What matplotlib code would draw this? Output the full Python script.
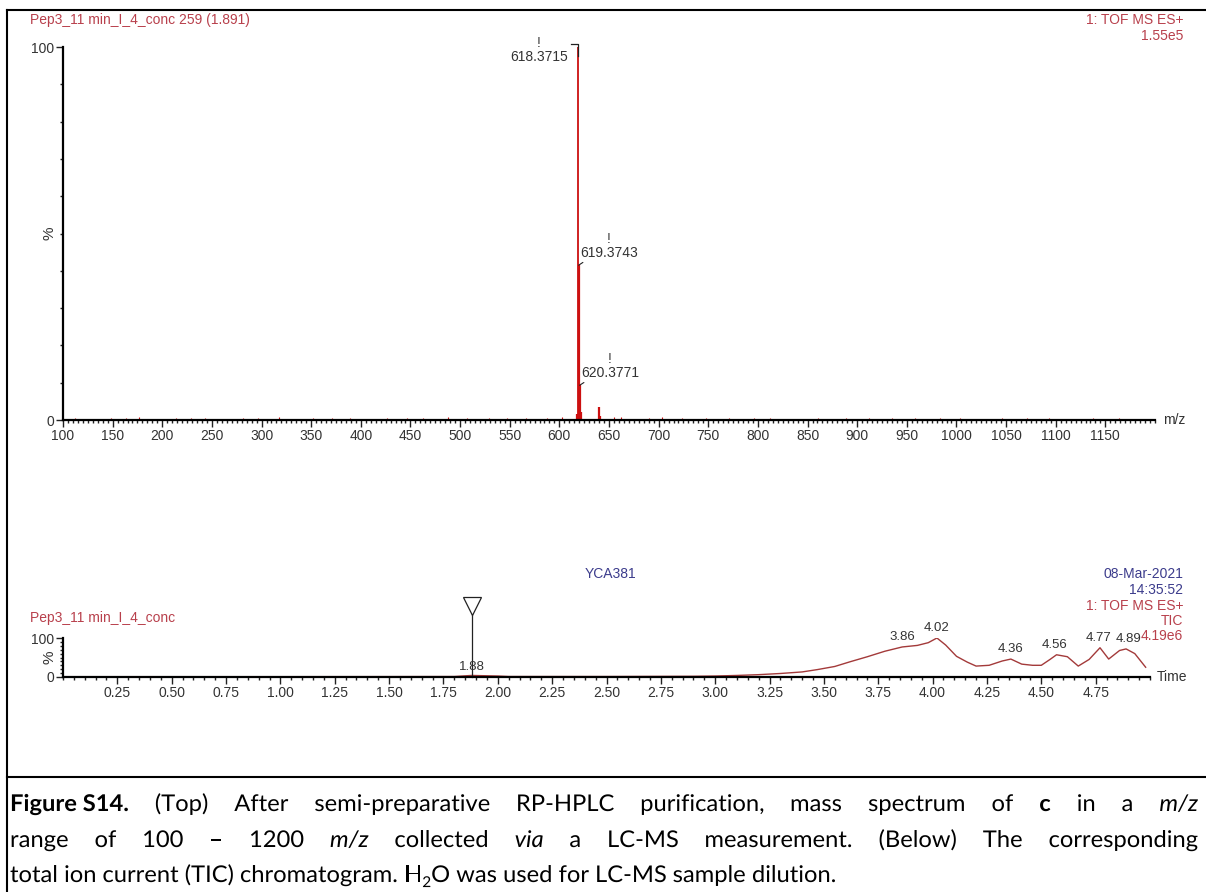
import matplotlib
matplotlib.use('Agg')
import matplotlib.pyplot as plt
from matplotlib.ticker import MultipleLocator, FixedLocator
from matplotlib.lines import Line2D
from matplotlib.textpath import TextPath
from matplotlib.patches import PathPatch
from matplotlib.font_manager import FontProperties
from matplotlib.transforms import Affine2D, IdentityTransform

# ---- data ----
# mass spectrum (top): labelled peaks and smaller features
peak_mz = [618.3715, 619.3743, 620.3771, 621.38, 617.6, 640.3, 641.3]
peak_int = [100.0, 41.5, 9.3, 2.2, 1.5, 3.4, 1.0]
peak_labels = ["618.3715", "619.3743", "620.3771"]

# baseline noise sticks (m/z, %)
noise_mz = [112, 131, 148, 163, 177, 196, 214, 229, 243, 262, 281, 296, 318, 334,
            352, 371, 389, 402, 426, 447, 463, 488, 507, 529, 547, 566, 588, 603,
            655, 662, 690, 703, 724, 748, 771, 796, 812, 838, 861, 889, 912, 935,
            958, 983, 1004, 1027, 1046, 1071, 1093, 1112, 1138, 1164, 1186]
noise_int = [0.5, 0.4, 0.6, 0.5, 0.7, 0.4, 0.6, 0.5, 0.5, 0.4, 0.6, 0.5, 0.7, 0.4,
             0.5, 0.6, 0.5, 0.4, 0.6, 0.5, 0.5, 0.7, 0.6, 0.5, 0.5, 0.6, 0.5, 0.7,
             0.9, 0.7, 0.6, 0.8, 0.5, 0.6, 0.5, 0.6, 0.5, 0.4, 0.6, 0.5, 0.6, 0.5,
             0.5, 0.6, 0.5, 0.4, 0.5, 0.6, 0.5, 0.4, 0.5, 0.5, 0.4]

# TIC chromatogram (bottom)
tic_t = [0.00, 0.50, 1.00, 1.50, 1.80, 1.85, 1.88, 1.92, 2.00, 2.05, 2.50, 2.90,
         3.00, 3.10, 3.20, 3.30, 3.40, 3.47, 3.55, 3.62, 3.70, 3.78, 3.86, 3.93,
         3.98, 4.02, 4.06, 4.11, 4.16, 4.20, 4.26, 4.32, 4.36, 4.41, 4.46, 4.50,
         4.54, 4.57, 4.62, 4.67, 4.72, 4.77, 4.81, 4.86, 4.89, 4.93, 4.98]
tic_pct = [0.8, 0.8, 0.8, 1.0, 1.2, 3.0, 4.0, 3.5, 2.5, 1.2, 1.2, 1.8,
           2.5, 4.0, 6.0, 9.0, 13.0, 19.0, 27.0, 39.0, 52.0, 66.0, 77.0, 81.0,
           88.0, 100.0, 82.0, 53.0, 38.0, 28.0, 30.0, 41.0, 46.0, 33.0, 30.0, 30.0,
           45.0, 57.0, 52.0, 28.0, 45.0, 75.0, 46.0, 68.0, 72.0, 60.0, 25.0]
tic_peak_t = [3.86, 4.02, 4.36, 4.56, 4.77, 4.89]
tic_peak_pct = [77.0, 100.0, 46.0, 57.0, 75.0, 72.0]
marker_t = 1.88

caption = [
    [[("Figure S14.", "b")], [("(Top)", "n")], [("After", "n")], [("semi-preparative", "n")],
     [("RP-HPLC", "n")], [("purification,", "n")], [("mass", "n")], [("spectrum", "n")],
     [("of", "n")], [("c", "b")], [("in", "n")], [("a", "n")], [("m/z", "i")]],
    [[("range", "n")], [("of", "n")], [("100", "n")], [("–", "n")], [("1200", "n")],
     [("m/z", "i")], [("collected", "n")], [("via", "i")], [("a", "n")], [("LC-MS", "n")],
     [("measurement.", "n")], [("(Below)", "n")], [("The", "n")], [("corresponding", "n")]],
    [[("total", "n")], [("ion", "n")], [("current", "n")], [("(TIC)", "n")],
     [("chromatogram.", "n")], [("H", "n"), ("2", "sub"), ("O", "n")], [("was", "n")],
     [("used", "n")], [("for", "n")], [("LC-MS", "n")], [("sample", "n")], [("dilution.", "n")]],
]

W, H = 1206, 892
RED = "#cc1010"
TRACE = "#a33a3a"
HDR = "#b8404c"
BLUE = "#3c3c8c"
GREY = "#333333"
FS = 10

plt.rcParams['font.family'] = ['Liberation Sans', 'DejaVu Sans']

fig = plt.figure(figsize=(W / 100, H / 100), dpi=100)


def fx(px):
    return px / W


def fy(py):
    return 1 - py / H


def style_axis(ax):
    for s in ("top", "right"):
        ax.spines[s].set_visible(False)
    ax.spines["left"].set_linewidth(1.6)
    ax.spines["bottom"].set_linewidth(1.6)
    ax.tick_params(which="both", direction="out", colors="#222222", labelcolor=GREY,
                   labelsize=FS, width=1)
    ax.tick_params(which="major", length=5, pad=1.5)
    ax.tick_params(which="minor", length=2.5)


# ---- top: mass spectrum ----
ax1 = fig.add_axes([fx(63), fy(420), fx(1155 - 63), (420 - 47) / H])
ax1.vlines(noise_mz, 0, noise_int, color=RED, lw=0.8)
ax1.vlines(peak_mz[1:], 0, peak_int[1:], color=RED, lw=1.6)
ax1.vlines(peak_mz[0], 0, peak_int[0], color=RED, lw=1.3)
ax1.set_xlim(100, 1200)
ax1.set_ylim(0, 100)
style_axis(ax1)
ax1.xaxis.set_major_locator(FixedLocator(list(range(100, 1151, 50))))
ax1.xaxis.set_minor_locator(MultipleLocator(5))
ax1.set_yticks([0, 100])
ax1.yaxis.set_minor_locator(FixedLocator([10, 20, 30, 40, 50, 60, 70, 80, 90]))
ax1.text(-0.0125, 0.5, "%", transform=ax1.transAxes, rotation=90, ha="center",
         va="center", fontsize=FS + 1, color=GREY)
ax1.text(1.007, 0.0, "m/z", transform=ax1.transAxes, ha="left", va="center",
         fontsize=FS, color=GREY)

# peak annotations
ax1.annotate("!\n" + peak_labels[0], xy=(peak_mz[0], peak_int[0]), xytext=(-7, 8),
             textcoords="offset points", ha="right", va="top", fontsize=FS,
             color=GREY, linespacing=1.0, multialignment="center", annotation_clip=False)
ax1.plot([peak_mz[0] - 7, peak_mz[0], peak_mz[0]], [100.8, 100.8, 97.5],
         color="#222222", lw=0.9, clip_on=False)
for i in (1, 2):
    ax1.annotate("!\n" + peak_labels[i], xy=(peak_mz[i], peak_int[i]), xytext=(1, 4),
                 textcoords="offset points", ha="left", va="bottom", fontsize=FS,
                 color=GREY, linespacing=1.0, multialignment="center",
                 arrowprops=dict(arrowstyle="-", color="#222222", lw=0.8,
                                 shrinkA=0, shrinkB=0))

fig.text(fx(30), fy(20), "Pep3_11 min_I_4_conc 259 (1.891)", ha="left", va="center",
         fontsize=FS, color=HDR)
fig.text(fx(1183), fy(20), "1: TOF MS ES+", ha="right", va="center", fontsize=FS, color=HDR)
fig.text(fx(1183), fy(36), "1.55e5", ha="right", va="center", fontsize=FS, color=HDR)

# ---- bottom: TIC chromatogram ----
ax2 = fig.add_axes([fx(63), fy(677), fx(1150 - 63), (677 - 638) / H])
ax2.plot(tic_t, tic_pct, color=TRACE, lw=1.0)
ax2.set_xlim(0, 5.0)
ax2.set_ylim(0, 100)
style_axis(ax2)
ax2.xaxis.set_major_locator(FixedLocator([0.25 * k for k in range(1, 20)]))
ax2.xaxis.set_major_formatter(plt.FuncFormatter(lambda v, p: f"{v:.2f}"))
ax2.xaxis.set_minor_locator(MultipleLocator(0.05))
ax2.set_yticks([0, 100])
ax2.yaxis.set_minor_locator(FixedLocator([10, 20, 30, 40, 50, 60, 70, 80, 90]))
ax2.tick_params(axis="y", which="minor", length=2)
ax2.text(-0.0125, 0.5, "%", transform=ax2.transAxes, rotation=90, ha="center",
         va="center", fontsize=FS + 1, color=GREY)
ax2.text(1.006, 0.0, "Time", transform=ax2.transAxes, ha="left", va="center",
         fontsize=FS, color=GREY)

for t, p in zip(tic_peak_t, tic_peak_pct):
    dx = 2 if t == tic_peak_t[-1] else (-1 if t == tic_peak_t[-2] else 0)
    ax2.annotate(f"{t:.2f}", xy=(t, p), xytext=(dx, 3), textcoords="offset points",
                 ha="center", va="bottom", fontsize=9.5, color=GREY, annotation_clip=False)
ax2.annotate(f"{marker_t:.2f}", xy=(marker_t, 4), xytext=(0, 2), textcoords="offset points",
             ha="center", va="bottom", fontsize=9.5, color=GREY)
ax2.plot([marker_t, marker_t], [0, 162], color="#222222", lw=0.9, clip_on=False)
ax2.plot([marker_t], [181], marker="v", markersize=13, markerfacecolor="white",
         markeredgecolor="#222222", markeredgewidth=0.9, clip_on=False)

fig.text(fx(30), fy(618), "Pep3_11 min_I_4_conc", ha="left", va="center",
         fontsize=FS, color=HDR)
fig.text(fx(610), fy(574), "YCA381", ha="center", va="center", fontsize=FS, color=BLUE)
fig.text(fx(1183), fy(574), "08-Mar-2021", ha="right", va="center", fontsize=FS, color=BLUE)
fig.text(fx(1183), fy(590), "14:35:52", ha="right", va="center", fontsize=FS, color=BLUE)
fig.text(fx(1183), fy(606), "1: TOF MS ES+", ha="right", va="center", fontsize=FS, color=HDR)
fig.text(fx(1183), fy(621), "TIC", ha="right", va="center", fontsize=FS, color=HDR)
fig.text(fx(1183), fy(636), "4.19e6", ha="right", va="center", fontsize=FS, color=HDR)

# ---- frame lines ----
for xs, ys in [((7, 1206), (10, 10)), ((7, 7), (10, 892)), ((7, 1206), (777, 777))]:
    fig.add_artist(Line2D([fx(x) for x in xs], [fy(y) for y in ys], color="black", lw=1.5))

# ---- caption: condensed text drawn as paths, lines 1-2 justified ----
renderer = fig.canvas.get_renderer()
CAP_FS = 16.6           # points; sets the glyph height
PX = 100 / 72


def cap_prop(kind):
    size = CAP_FS * 0.65 if kind == "sub" else CAP_FS
    return FontProperties(family="Lato", size=size,
                          weight="bold" if kind == "b" else "normal",
                          style="italic" if kind == "i" else "normal")


def run_width(s, kind):
    w, _, _ = renderer.get_text_width_height_descent(s, cap_prop(kind), ismath=False)
    return w


space_nat = run_width("a a", "n") - run_width("aa", "n")


def natural_width(words):
    return (sum(sum(run_width(s, k) for s, k in w) for w in words)
            + space_nat * (len(words) - 1))


# horizontal squeeze so the free last line ends where it does in the reference
SX = (836 - 10) / natural_width(caption[2])


def draw_run(s, kind, x_px, y_base_px):
    prop = cap_prop(kind)
    path = TextPath((0, 0), s, prop=prop)
    dy = CAP_FS * 0.22 * PX if kind == "sub" else 0
    tr = Affine2D().scale(SX * PX, PX).translate(x_px, H - y_base_px - dy)
    fig.add_artist(PathPatch(path, transform=tr + IdentityTransform(), facecolor="black",
                             edgecolor="none"))


def draw_caption_line(words, x0, y_base, target=None):
    widths = [sum(run_width(s, k) for s, k in w) * SX for w in words]
    if target is None:
        gap = space_nat * SX
    else:
        gap = (target - sum(widths)) / (len(words) - 1)
    x = x0
    for word, ww in zip(words, widths):
        xr = x
        for s, k in word:
            draw_run(s, k, xr, y_base)
            xr += run_width(s, k) * SX
        x += ww + gap


draw_caption_line(caption[0], 10, 811, target=1198 - 10)
draw_caption_line(caption[1], 10, 847, target=1198 - 10)
draw_caption_line(caption[2], 10, 882)

fig.savefig("out.png", dpi=100)
